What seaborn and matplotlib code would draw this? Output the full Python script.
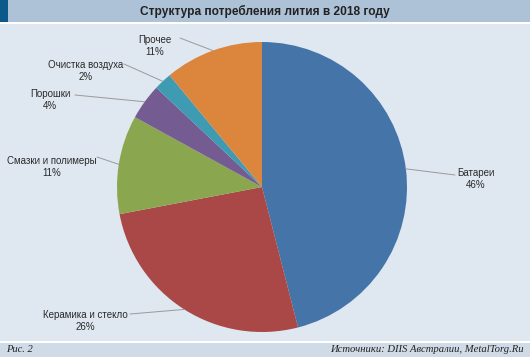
import numpy as np
import matplotlib
matplotlib.use("Agg")
import matplotlib.pyplot as plt
import seaborn as sns
from matplotlib.patches import Rectangle

sns.set_theme(style="white")
plt.rcParams['font.family'] = ['Liberation Sans', 'DejaVu Sans']

# data
categories = ["Батареи", "Керамика и стекло", "Смазки и полимеры",
              "Порошки", "Очистка воздуха", "Прочее"]
shares = [46, 26, 11, 4, 2, 11]
colors = ["#4574a8", "#a94846", "#8aa64f", "#745c92", "#3f9bb1", "#dc853d"]
title = "Структура потребления лития в 2018 году"
fig_label = "Рис. 2"
source = "Источники: DIIS Австралии, MetalTorg.Ru"

# label positions in pixels (x center, y of first line from top)
label_pos = [(476, 168), (85, 310), (52, 156), (50, 89), (86, 60), (155, 35)]
# where the leader line touches the label side (pixels)
leader_end = [(455, 175), (130, 314), (97, 157), (75, 95), (124, 64), (180, 38)]

W, H = 530, 357
fig = plt.figure(figsize=(W / 100, H / 100), dpi=100)
fig.patch.set_facecolor("#dfe7f0")


def px(x, y):
    return x / W, 1 - y / H


# header / footer bands
fig.patches.append(Rectangle(px(0, 22), 1, 22 / H, transform=fig.transFigure,
                             facecolor="#adc1d7", edgecolor="none", zorder=0))
fig.patches.append(Rectangle(px(0, 22), 8 / W, 22 / H, transform=fig.transFigure,
                             facecolor="#0b5a8a", edgecolor="none", zorder=1))
fig.patches.append(Rectangle(px(0, 24), 1, 2 / H, transform=fig.transFigure,
                             facecolor="white", edgecolor="none", zorder=0))
fig.patches.append(Rectangle(px(0, 357), 1, 15 / H, transform=fig.transFigure,
                             facecolor="#cfdbe7", edgecolor="none", zorder=0))
fig.patches.append(Rectangle(px(0, 343), 1, 2 / H, transform=fig.transFigure,
                             facecolor="white", edgecolor="none", zorder=0))

fig.text(0.5, 1 - 11 / H, title, ha="center", va="center",
         fontsize=8.6, fontweight="bold", color="#222222")
serif = ["Liberation Serif", "DejaVu Serif"]
fig.text(6 / W, 1 - 350 / H, fig_label, ha="left", va="center",
         fontsize=7.6, style="italic", family=serif, color="#222222")
fig.text(1 - 6 / W, 1 - 350 / H, source, ha="right", va="center",
         fontsize=7.7, style="italic", family=serif, color="#222222")

# pie
cx, cy, r = 262, 187, 145
ax = fig.add_axes([(cx - r) / W, (H - cy - r) / H, 2 * r / W, 2 * r / H])
wedges, _ = ax.pie(shares, colors=colors, startangle=90, counterclock=False,
                   radius=1, wedgeprops=dict(linewidth=0))
ax.set_xlim(-1, 1)
ax.set_ylim(-1, 1)
ax.set_aspect("equal")
ax.axis("off")

for w, name, val, (lx, ly), (tx, ty) in zip(wedges, categories, shares,
                                             label_pos, leader_end):
    ang = np.deg2rad((w.theta1 + w.theta2) / 2)
    x0, y0 = np.cos(ang), np.sin(ang)
    fig.text(lx / W, 1 - ly / H, f"{name}\n{val}%", ha="center", va="top",
             fontsize=7, color="#2a2a2a", linespacing=1.25)
    ex = (tx - cx) / r
    ey = (cy - ty) / r
    ax.plot([x0, ex], [y0, ey], color="#9a9a9a", linewidth=0.7, clip_on=False)

fig.savefig("out.png", dpi=100, facecolor=fig.get_facecolor())
